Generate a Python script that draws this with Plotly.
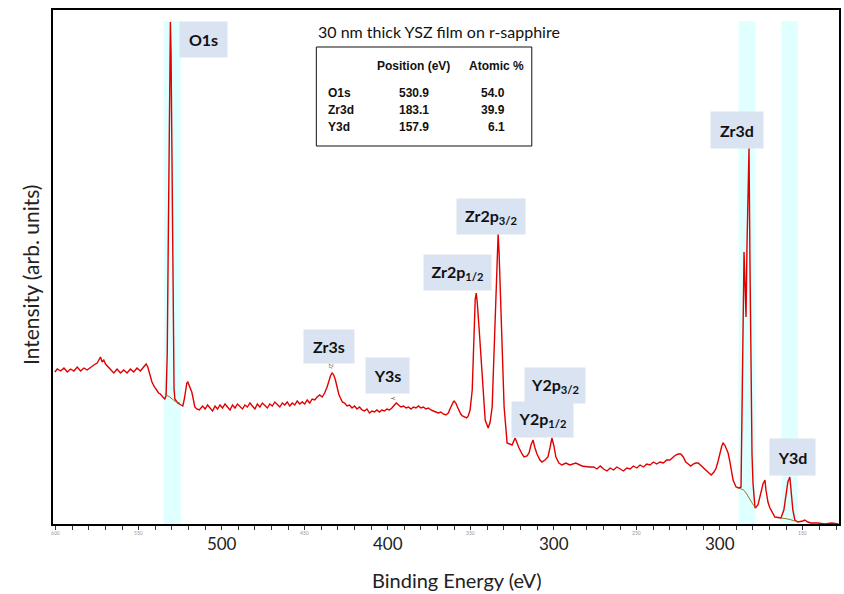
import plotly.graph_objects as go

# ---------------- data (binding energy in eV, intensity in arb. units) -------------
energy_a = [600.5, 599, 597, 595, 593, 591, 589, 587, 585, 583, 581, 579, 577, 575, 574, 573,
            572, 571, 570, 569, 567, 565, 563, 561, 559, 557, 555, 553, 551, 549, 547, 545.5]
intens_a = [152, 155, 153, 156, 152, 155, 153, 157, 153, 156, 154, 157, 159, 161, 164, 167,
            162, 164, 160, 158, 155, 151, 155, 151, 154, 151, 155, 152, 156, 153, 157, 160]

energy_b = [544.5, 543.5, 542, 540.5, 539, 538, 537, 536, 535, 534.3, 533.5, 532.8, 532.3, 531.8,
            531.3, 530.9, 530.5, 530.1, 529.7, 529.2, 528.7, 528.2, 527.5, 526.5, 525.5, 524.5,
            523.4, 522.5, 521.8, 521, 520.4, 519.6, 518.8, 518, 517, 516.2, 515, 513.5]
intens_b = [157, 150, 142, 137, 133, 131, 130, 128, 127, 125, 128, 170, 260, 380,
            470, 502, 470, 380, 280, 180, 135, 125, 123, 121, 120, 119,
            118, 125, 134, 141, 142, 139, 136, 132, 124, 117, 115, 114]

energy_c = [511.5, 510, 508.5, 507, 505.5, 504, 502.5, 501, 499.5, 498, 496.5, 495, 493.5, 492,
            490.5, 489, 487.5, 486, 484.5, 483, 481.5, 480, 478.5, 477, 475.5, 474, 472.5, 471,
            469.5, 468, 466.5, 465, 463.5, 462, 460.5, 459, 457.5, 456, 454.5, 453, 451.5, 450,
            448.5, 447, 445.5, 444, 442.5, 441]
intens_c = [118, 115, 119, 116, 113, 118, 115, 119, 116, 120, 117, 114, 119, 116,
            120, 117, 115, 119, 117, 121, 118, 115, 120, 117, 121, 118, 116, 120,
            118, 122, 119, 117, 121, 119, 122, 118, 121, 119, 123, 120, 122, 120,
            124, 121, 125, 124, 127, 129]

energy_d = [439.5, 438, 436.5, 435.5, 434.5, 433.5, 432.5, 431.5, 430.5, 429.5, 428.5, 427.3,
            426, 424.5, 423, 421.5, 420, 418.5, 417, 415.5, 414, 412.5, 411, 409.5, 408, 406.5,
            405, 403.5, 402, 400.5, 399, 397.5, 396, 394.8, 393.5, 392, 390.5, 389, 387.5, 386,
            384.5, 383, 381.5, 380, 378.5, 377, 375.5, 374, 372.5, 371, 369.5, 368, 366.5, 365,
            363.5, 362.5, 361.5, 360.5, 360, 359, 358, 357, 356, 355, 354, 352.5, 351.5]
intens_d = [127, 131, 137, 143, 148, 151, 149, 144, 136, 130, 126, 122,
            121, 118, 119, 116, 118, 115, 117, 114, 113, 115, 111, 113, 112, 114,
            112, 114, 113, 115, 114, 116, 119, 121, 119, 117, 118, 116, 117, 115,
            117, 116, 118, 116, 117, 115, 116, 114, 113, 112, 111, 112, 110, 109,
            111, 115, 119, 122, 123, 121, 117, 113, 110, 108, 107, 106, 108]

energy_e = [350.4, 349.1, 347.9, 347.3, 346.7, 346.1, 344.9, 343.1, 341.3, 339.5, 338.3, 337.1,
            335.3, 334.1, 333.5, 332.9, 331.7, 329.9, 328.1, 326.3, 325.1, 323.3, 322.1, 320.9,
            319.1, 317.9, 316.1, 314.9, 313.7, 312.5, 311.3, 310.1, 308.3, 307.1, 305.3, 303.5,
            302.3, 301.1, 299.9, 298.7, 296.9, 295.1, 292.7, 290.3, 286.7, 283.0, 278.8]
intens_e = [114, 134, 201, 225, 231, 222, 194, 147, 104, 96, 102, 117,
            201, 267, 290, 270, 201, 117, 81, 80, 79, 86, 80, 76,
            70, 67, 68, 71, 79, 84, 76, 70, 64, 62, 64, 67,
            76, 86, 78, 67, 61, 59, 61, 59, 61, 58, 57]

energy_f = [276, 274, 272, 270, 268, 266, 264, 262, 260, 258, 256, 254, 252, 250, 248, 246, 244,
            242, 240, 238, 236, 234, 232, 230, 228, 226.5, 225, 223.5, 222, 220.5, 219, 217.5,
            216, 214.5, 213, 211, 209.5, 207.5, 205.2, 203.5, 202.2, 201, 199.8, 198.8, 198, 197,
            196, 195, 194, 193.2, 192, 190.2, 188.4, 187.2]
intens_f = [57, 55, 58, 55, 53, 56, 54, 57, 55, 53, 56, 55, 58, 56, 59, 57, 60,
            59, 62, 60, 62, 61, 64, 64, 67, 69, 70, 70, 67, 62, 60, 58,
            60, 61, 61, 58, 56, 52, 49, 52, 56, 63, 72, 78, 81, 79,
            75, 71, 63, 55, 44, 37, 36, 37]

energy_g = [186.6, 186.0, 185.4, 184.8, 184.2, 183.6, 183.0, 182.4, 181.8, 181.2, 180.6, 180.0,
            178.8, 177.0, 175.2, 174.0, 172.8, 172.2, 171.0, 169.8, 166.8, 163.2, 161.4, 160.2,
            159.0, 157.8, 157.2, 156.0, 154.8, 153.0, 150.0, 148.8, 147.0, 145.2, 141.0, 136.8,
            132.6, 128.5]
intens_g = [100, 191, 272, 240, 207, 280, 340, 376, 257, 124, 70, 41,
            16, 19, 31, 40, 44, 34, 22, 16, 7, 6, 14, 30,
            42, 47, 34, 14, 4, 2, 3, 4, 2, 1, 1, 0,
            1, 0]

# Shirley backgrounds under the quantified peaks
bg_o1s_energy = [534.3, 531.3, 528.2, 525.2]
bg_o1s_intens = [130, 127, 123, 121]
bg_zr3d_energy = [189.3, 185.7, 182.7, 179.7, 177.8]
bg_zr3d_intens = [36, 34, 27, 19, 16]
bg_y3d_energy = [163.2, 159.0, 154.8]
bg_y3d_intens = [6, 5, 3]

# integration windows (eV)
windows = [(534.9, 524.6), (188.7, 178.5), (162.8, 153.0)]

# table
table_header = ["Position (eV)", "Atomic %"]
table_rows = ["O1s", "Zr3d", "Y3d"]
table_pos = ["530.9", "183.1", "157.9"]
table_at = ["54.0", "39.9", "6.1"]

# tick labels as printed on the original
tick_label_values = [500, 400, 300, 200]
tick_label_texts = ["500", "400", "300", "300"]
small_tick_values = [600, 550, 450, 350, 250, 150]

energy = energy_a + energy_b + energy_c + energy_d + energy_e + energy_f + energy_g
intensity = intens_a + intens_b + intens_c + intens_d + intens_e + intens_f + intens_g

# peak labels: text, centre energy, centre intensity, box width, box height
peak_labels = [
    ("O1s", 511.1, 484.5, 47, 35),
    ("Zr3s", 435.1, 177.5, 50, 33),
    ("Y3s", 399.9, 148.5, 43, 35),
    ("Zr2p<sub>1/2</sub>", 357.9, 251.5, 67, 35),
    ("Zr2p<sub>3/2</sub>", 337.7, 307.5, 68, 35),
    ("Y2p<sub>3/2</sub>", 299.3, 138.5, 60, 35),
    ("Y2p<sub>1/2</sub>", 306.8, 104.5, 61, 35),
    ("Zr3d", 189.9, 394.0, 52, 36),
    ("Y3d", 156.5, 67.0, 45, 36),
]

FONT = "Lato, Carlito, Calibri, sans-serif"
TFONT = "Liberation Sans Narrow, Arial Narrow, Liberation Sans, Arial, sans-serif"

fig = go.Figure()

for hi, lo in windows:
    fig.add_shape(type="rect", xref="x", yref="y", x0=hi, x1=lo, y0=0, y1=503,
                  fillcolor="#e0ffff", line_width=0, layer="below")

fig.add_trace(go.Scatter(x=energy, y=intensity, mode="lines",
                         line=dict(color="#e00000", width=1.4), showlegend=False))
for ex, iy in [(bg_o1s_energy, bg_o1s_intens), (bg_zr3d_energy, bg_zr3d_intens),
               (bg_y3d_energy, bg_y3d_intens)]:
    fig.add_trace(go.Scatter(x=ex, y=iy, mode="lines", line=dict(color="#8f7420", width=1),
                             line_shape="spline", showlegend=False))

annotations = []
for text, ex, iy, w, h in peak_labels:
    annotations.append(dict(x=ex, y=iy, xref="x", yref="y", text="<b>" + text + "</b>",
                            xanchor="center", yanchor="middle",
                            showarrow=False, bgcolor="#dae3f1", width=w, height=h,
                            borderpad=0, font=dict(family=FONT, size=16, color="#111")))

# tiny rotated markers
annotations.append(dict(x=433.8, y=157, xref="x", yref="y", text="Zr", textangle=90,
                        xanchor="center", yanchor="middle",
                        showarrow=False, font=dict(family=FONT, size=6, color="#666")))
annotations.append(dict(x=396.5, y=126, xref="x", yref="y", text="Y", textangle=90,
                        xanchor="center", yanchor="middle",
                        showarrow=False, font=dict(family=FONT, size=6, color="#666")))


def px(xp):
    return (xp - 53) / 788


def py(yp):
    return (524 - yp) / 514


# title
annotations.append(dict(x=px(440), y=py(32), xref="paper", yref="paper",
                        xanchor="center", yanchor="middle",
                        text="30 nm thick YSZ film on r-sapphire", showarrow=False,
                        font=dict(family=FONT, size=16, color="#111")))

# axis titles
annotations.append(dict(x=px(458), y=py(580), xref="paper", yref="paper",
                        xanchor="center", yanchor="middle",
                        text="Binding Energy (eV)", showarrow=False,
                        font=dict(family=FONT, size=20, color="#222")))
annotations.append(dict(x=px(30), y=py(275), xref="paper", yref="paper",
                        xanchor="center", yanchor="middle", textangle=-90,
                        text="Intensity (arb. units)", showarrow=False,
                        font=dict(family=FONT, size=21, color="#222")))

# table
fig.add_shape(type="rect", xref="paper", yref="paper", x0=px(317), x1=px(533),
              y0=py(146), y1=py(47), line=dict(color="#111", width=1), fillcolor="white")
for txt, xc in zip(table_header, [414, 498]):
    annotations.append(dict(x=px(xc), y=py(66), xref="paper", yref="paper", text="<b>" + txt + "</b>",
                            xanchor="center", yanchor="middle",
                            showarrow=False, font=dict(family=TFONT, size=12, color="#111")))
for i, (r, p, a) in enumerate(zip(table_rows, table_pos, table_at)):
    yy = py(93 + 17 * i)
    annotations.append(dict(x=px(327), y=yy, xref="paper", yref="paper", text="<b>" + r + "</b>",
                            xanchor="left", yanchor="middle",
                            showarrow=False, font=dict(family=TFONT, size=12, color="#111")))
    annotations.append(dict(x=px(415), y=yy, xref="paper", yref="paper", text="<b>" + p + "</b>",
                            xanchor="center", yanchor="middle",
                            showarrow=False, font=dict(family=TFONT, size=12, color="#111")))
    annotations.append(dict(x=px(508), y=yy, xref="paper", yref="paper", text="<b>" + a + "</b>",
                            xanchor="right", yanchor="middle",
                            showarrow=False, font=dict(family=TFONT, size=12, color="#111")))

for v in small_tick_values:
    annotations.append(dict(x=v, y=-0.018, xref="x", yref="paper", text=str(v), showarrow=False,
                            xanchor="center", yanchor="middle",
                            font=dict(family=FONT, size=5, color="#999")))

tickvals = list(range(600, 120, -10))
ticktext = [tick_label_texts[tick_label_values.index(v)] if v in tick_label_values else "" for v in tickvals]

fig.update_layout(
    width=844, height=594,
    margin=dict(l=53, r=3, t=10, b=70),
    paper_bgcolor="white", plot_bgcolor="white",
    annotations=annotations,
    font=dict(family=FONT),
    xaxis=dict(range=[601.6, 128.2], showline=True, linecolor="black", linewidth=2, mirror=True,
               showgrid=False, zeroline=False, ticks="outside", ticklen=4, tickwidth=1, tickcolor="#333",
               tickvals=tickvals, ticktext=ticktext, tickfont=dict(family=FONT, size=17, color="#222")),
    yaxis=dict(range=[0, 514], showline=True, linecolor="black", linewidth=2, mirror=True,
               showgrid=False, zeroline=False, showticklabels=False, ticks=""),
)

fig.write_html("out.html")
